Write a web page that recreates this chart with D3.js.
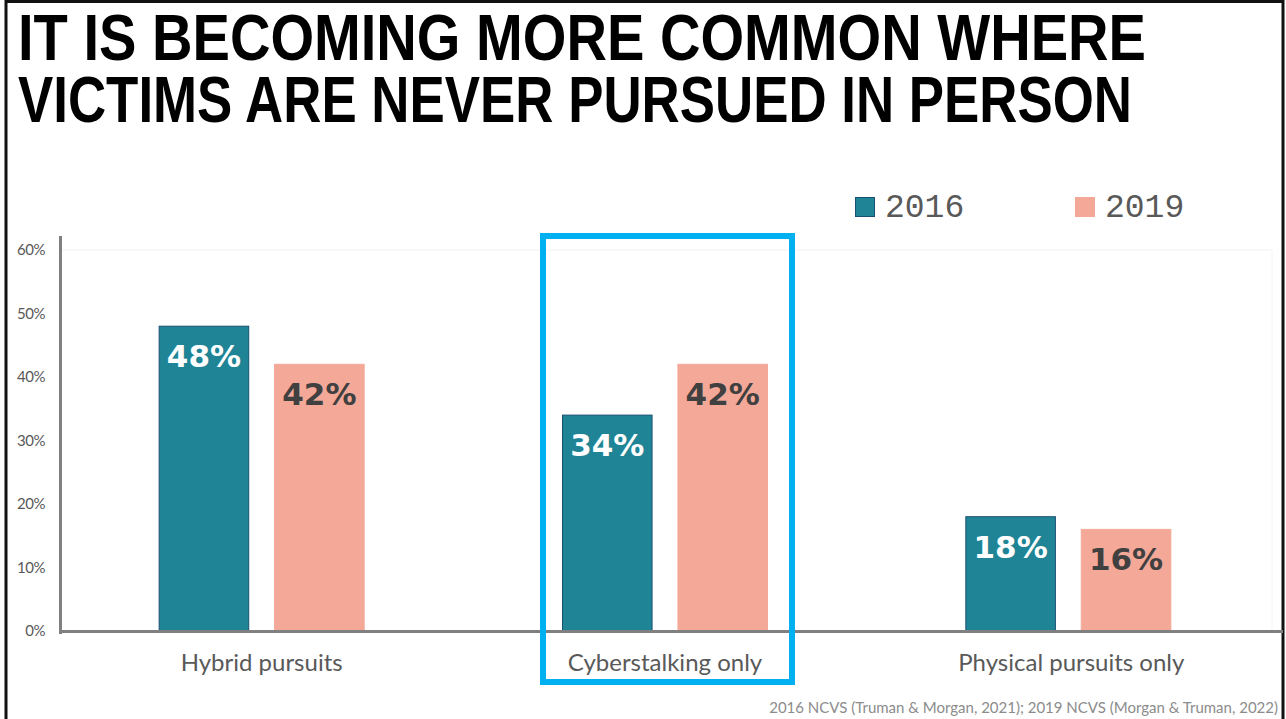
<!DOCTYPE html>
<html><head><meta charset="utf-8">
<script src="https://cdn.jsdelivr.net/npm/d3@7"></script>
<style>html,body{margin:0;padding:0;background:#fff;}svg{display:block;}</style>
</head><body>
<svg id="chart" width="1286" height="719"></svg>
<script>
const titleLines = ["IT IS BECOMING MORE COMMON WHERE", "VICTIMS ARE NEVER PURSUED IN PERSON"];
const categories = ["Hybrid pursuits", "Cyberstalking only", "Physical pursuits only"];
const seriesNames = ["2016", "2019"];
const values2016 = [48, 34, 18];
const values2019 = [42, 42, 16];
const yTicks = [0, 10, 20, 30, 40, 50, 60];
const highlighted = "Cyberstalking only";
const sourceText = "2016 NCVS (Truman & Morgan, 2021); 2019 NCVS (Morgan & Truman, 2022)";

const colors = {"2016": "#1F8596", "2019": "#F4A898"};
const strokes = {"2016": "#1B4F72", "2019": "#F4A898"};
const labelColors = {"2016": "#ffffff", "2019": "#404040"};

const svg = d3.select("#chart");

// slide border
svg.append("rect").attr("x", 6).attr("y", 1.5).attr("width", 1277).attr("height", 730)
  .attr("fill", "none").attr("stroke", "#111").attr("stroke-width", 3);

// title: one text block, two lines (slightly stretched vertically)
const titleW = [1128, 1114];
const sy = 1.19;
const title = svg.append("text").attr("class", "title")
  .attr("transform", `scale(1,${sy})`)
  .attr("font-family", "'Liberation Sans', Arial, sans-serif").attr("font-weight", "bold")
  .attr("font-size", 54).attr("fill", "#000");
title.selectAll("tspan").data(titleLines).join("tspan")
  .attr("x", 18).attr("y", (d, i) => (60 + i * 62) / sy)
  .attr("textLength", (d, i) => titleW[i]).attr("lengthAdjust", "spacingAndGlyphs")
  .text(d => d);

const x0 = d3.scaleBand().domain(categories).range([60, 1270]);
const x1 = d3.scaleBand().domain(seriesNames).range([0, 206]).paddingInner(0.2155);
const y = d3.scaleLinear().domain([0, 60]).range([631, 250]);

// top gridline
svg.append("line").attr("x1", 62).attr("x2", 1272).attr("y1", y(60)).attr("y2", y(60))
  .attr("stroke", "#f2f2f2").attr("stroke-width", 1);
svg.append("line").attr("x1", 1272).attr("x2", 1272).attr("y1", y(60)).attr("y2", y(0))
  .attr("stroke", "#f4f4f4").attr("stroke-width", 1);

// y axis
const yAxis = d3.axisLeft(y).tickValues(yTicks).tickFormat(d => d + "%").tickSize(0).tickPadding(15);
const ya = svg.append("g").attr("transform", "translate(60,0)").call(yAxis);
ya.select(".domain").remove();
ya.selectAll("text").attr("font-family", "Lato, sans-serif").attr("font-size", 15)
  .attr("fill", "#595959").attr("letter-spacing", "-0.5");
svg.append("line").attr("x1", 60.5).attr("x2", 60.5).attr("y1", 236).attr("y2", 634)
  .attr("stroke", "#808080").attr("stroke-width", 3);

const data = categories.map((c, i) => ({cat: c, vals: [
  {s: "2016", v: values2016[i]}, {s: "2019", v: values2019[i]}]}));

const groups = svg.selectAll("g.grp").data(data).join("g").attr("class", "grp")
  .attr("transform", d => `translate(${x0(d.cat) + x0.bandwidth() / 2 - 103},0)`);

groups.selectAll("rect").data(d => d.vals).join("rect")
  .attr("x", d => x1(d.s) + 0.5).attr("width", x1.bandwidth() - 1)
  .attr("y", d => y(d.v)).attr("height", d => y(0) - y(d.v))
  .attr("fill", d => colors[d.s]).attr("stroke", d => strokes[d.s]).attr("stroke-width", 1);

groups.selectAll("text.val").data(d => d.vals).join("text").attr("class", "val")
  .attr("x", d => x1(d.s) + x1.bandwidth() / 2).attr("y", d => y(d.v) + 41)
  .attr("text-anchor", "middle").attr("font-family", "'DejaVu Sans', sans-serif")
  .attr("font-weight", "bold").attr("font-size", 31).attr("fill", d => labelColors[d.s])
  .text(d => d.v + "%");

// x axis baseline
svg.append("line").attr("x1", 60).attr("x2", 1283).attr("y1", 631.5).attr("y2", 631.5)
  .attr("stroke", "#808080").attr("stroke-width", 3);

// category labels
svg.selectAll("text.cat").data(categories).join("text").attr("class", "cat")
  .attr("x", d => x0(d) + x0.bandwidth() / 2 + (d === "Physical pursuits only" ? 3 : 0)).attr("y", 671)
  .attr("text-anchor", "middle").attr("font-family", "Lato, sans-serif")
  .attr("font-size", 24).attr("fill", "#595959").text(d => d);

// highlight box
const hx = x0(highlighted) + x0.bandwidth() / 2;
svg.append("rect").attr("x", hx - 122).attr("y", 236).attr("width", 249).attr("height", 446)
  .attr("fill", "none").attr("stroke", "#00B0F0").attr("stroke-width", 6);

// legend
const legX = {"2016": 855, "2019": 1075};
const leg = svg.selectAll("g.leg").data(seriesNames).join("g").attr("class", "leg")
  .attr("transform", d => `translate(${legX[d]},197)`);
leg.append("rect").attr("x", 0.5).attr("y", 0.5).attr("width", 19).attr("height", 19)
  .attr("fill", d => colors[d]).attr("stroke", d => strokes[d]);
leg.append("text").attr("x", 30).attr("y", 20).attr("font-family", "'Liberation Mono', monospace")
  .attr("font-size", 33).attr("fill", "#595959").text(d => d);

// source
svg.append("text").attr("x", 1278).attr("y", 713).attr("text-anchor", "end")
  .attr("font-family", "Lato, sans-serif").attr("font-size", 15).attr("fill", "#8c8c8c")
  .text(sourceText);
</script>
</body></html>
